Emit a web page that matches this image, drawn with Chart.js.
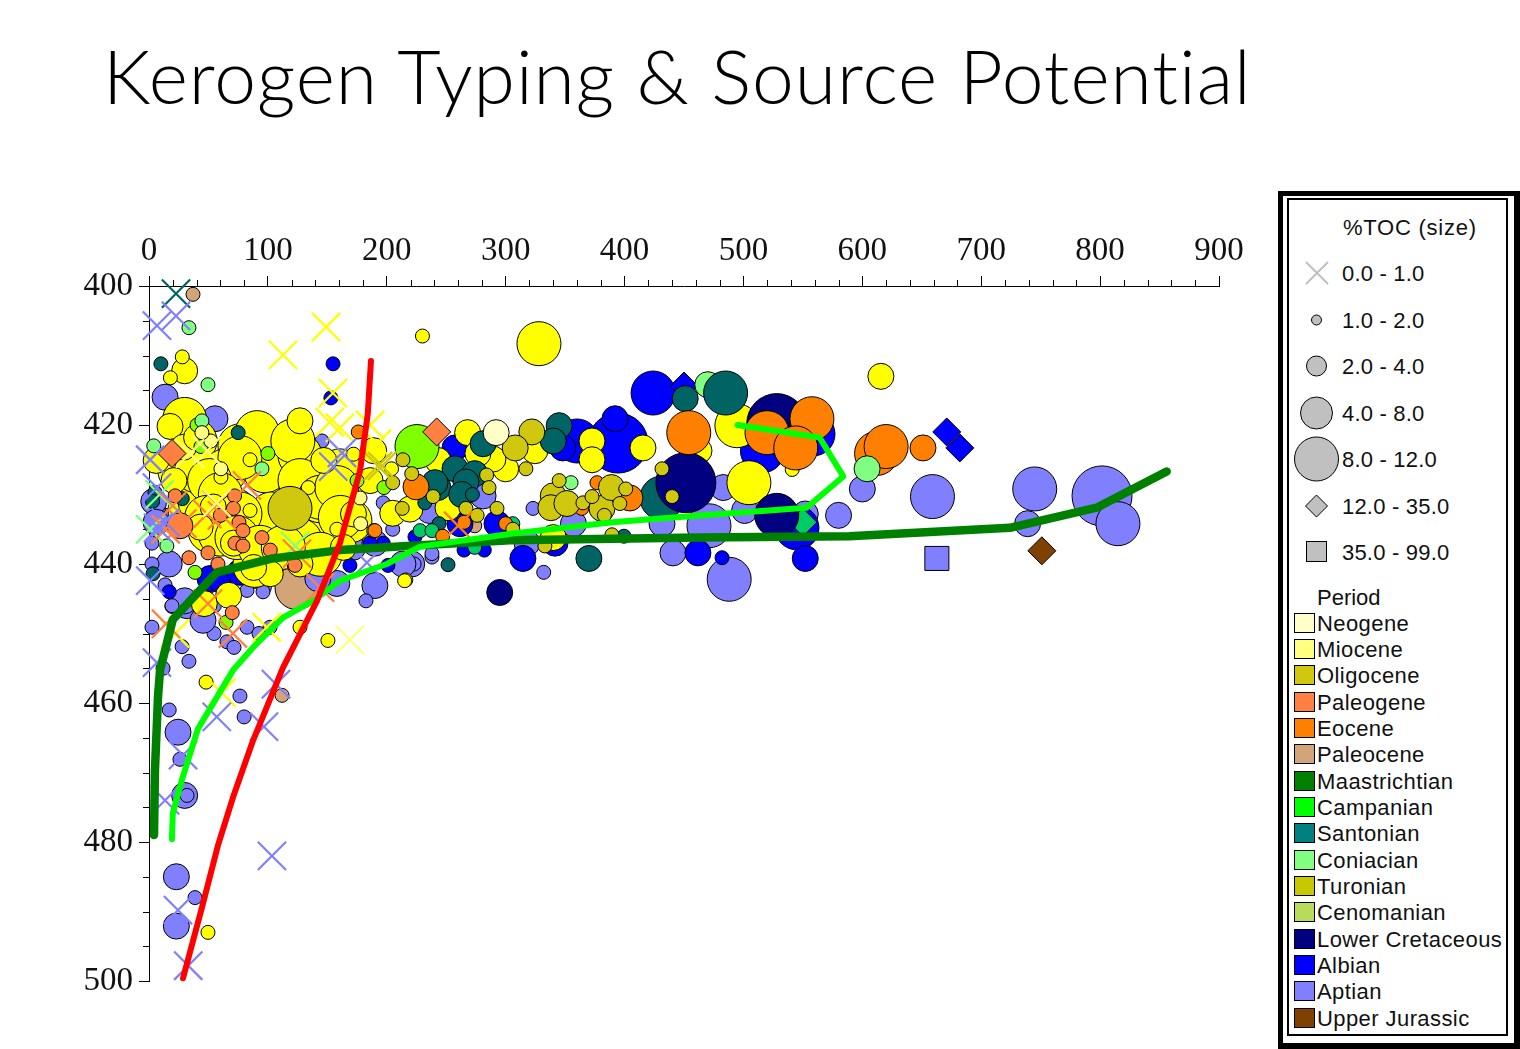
<!DOCTYPE html>
<html>
<head>
<meta charset="utf-8">
<title>Kerogen Typing & Source Potential</title>
<script src="https://cdn.jsdelivr.net/npm/chart.js@4"></script>
<style>
html,body{margin:0;padding:0;background:#fff;width:1520px;height:1049px;overflow:hidden}
#title{position:absolute;left:103px;top:30px;font:300 75px Lato,"Open Sans",sans-serif;color:#000;white-space:nowrap;letter-spacing:1px}
canvas{position:absolute;left:0;top:0}
#legend{position:absolute;left:1278px;top:191px;width:242px;height:858px;box-sizing:border-box;background:#000;}
#legend .gap{position:absolute;left:5px;top:5px;width:231px;height:847px;background:#fff}
#legend .inner{position:absolute;left:9px;top:7px;width:221px;height:838px;box-sizing:border-box;border:2px solid #000;background:#fff}
.lt{position:absolute;font:22px "Liberation Sans",Arial,sans-serif;color:#111;white-space:nowrap;line-height:26px;height:26px;transform:translateY(-12.5px)}
.sw{position:absolute;width:19px;height:18px;border:1px solid #000;left:1294px}
svg.ic{position:absolute;overflow:visible;left:0;top:0}
</style>
</head>
<body>
<div id="title">Kerogen Typing &amp; Source Potential</div>
<canvas id="c" width="1520" height="1049" style="width:1520px;height:1049px"></canvas>
<div id="legend"><div class="gap"></div><div class="inner"></div></div>
<div id="legendItems"></div>
<script>
// size class: 0 cross (0-1), 1 small (1-2), 2 mid (2-4), 3 large (4-8), 4 largest (8-12), 5 diamond (12-35), 6 square (35-99)
const tocLabels = ["0.0 - 1.0","1.0 - 2.0","2.0 - 4.0","4.0 - 8.0","8.0 - 12.0","12.0 - 35.0","35.0 - 99.0"];
const periodNames = ["Neogene","Miocene","Oligocene","Paleogene","Eocene","Paleocene","Maastrichtian","Campanian","Santonian","Coniacian","Turonian","Cenomanian","Lower Cretaceous","Albian","Aptian","Upper Jurassic"];
const periodSwatches = ["#ffffc8","#ffff80","#cfc80f","#ff8040","#ff8000","#d2a478","#008000","#00ff00","#008080","#80ff80","#c8c800","#b8dc5a","#000080","#0000ff","#8080ff","#804000"];
const xTickStep = 20, yTickStep = 5;

const aptianPts = [[801.6,430.2,4],[815,434.2,3],[745,429.2,3],[659,430.3,3],[488,442.2,3],[471,434.5,3],[739,434.2,2],[600,429.2,2],[580,433,2],[431.5,434.2,2],[440.7,438.4,2],[483,429,2],[501,432.3,2],[552,432.8,2],[357,434.2,2],[318,437,2],[281,430.2,2],[236,432.3,2],[221,440,2],[332,441.2,1],[323,432,1],[238,439,1],[190,443.1,2],[158,442.8,2],[142,442.1,2],[182.5,445.3,1],[17,440,2],[24.4,464.2,2],[23,485,2],[23,492.1,2],[30,473.3,2],[32,473.3,1],[13.5,416,2],[55.5,419.1,2],[2.5,437,1],[2.5,440,1],[2.5,449.1,1],[17,461,1],[26,468.1,1],[38.7,488,1],[76.5,459,1],[80,462,1],[54.7,450,1],[65.6,451.2,1],[71.5,452,1],[82.4,449.1,1],[92.5,450,1],[101.8,449.1,1],[27.8,451.9,1],[33.6,454,1],[11.8,455,1],[19.3,446.1,1],[32,446,2],[45.4,448.1,2],[30,445.3,2],[13.5,443,1],[51,443.2,1],[64,443,1],[89,442.5,1],[81,441,1],[97,443.4,1],[55,446,1],[126,440,1],[14,433,1],[8,432,1],[4,431,2],[197,431.2,1],[223,440,1],[213.6,440,2],[238,438.5,1],[145.5,422.3,1],[158,437.6,2],[171.5,437.6,2],[82.4,443.8,1],[95.9,444,1],[19.3,446,1],[6,434,2],[190,437,2],[205,435,1]];
const aptianSquares = [[662.7,439.2,6]];
const aptianCross = [[6.7,405.7,0],[22.7,404.3,0],[33,497.8,0],[103.4,482,0],[57,462,0],[96.7,463.4,0],[106.8,457.3,0],[24.4,489.8,0],[13.5,474,0],[28.6,467.5,0],[6.7,454.2,0],[1,442.4,0],[162.3,424,0],[6.7,429,0],[7.6,434.8,0],[183.3,439.8,0],[1,425,0],[14,434,0],[155,426,0]];
const albianPts = [[424,415.4,3],[394.5,422.6,4],[360,422.3,3],[348,423.3,2],[516,423.7,3],[558.5,421.3,3],[545,434.8,3],[461.7,438.4,2],[552,439.2,2],[314.5,439.2,2],[341.5,437,2],[257.4,423.3,2],[392,419.1,2],[292.7,434.2,2],[261.6,434.2,2],[482,439.1,1],[154.8,411.2,1],[153,416.1,1],[17,444,1],[51.3,442.1,2],[61.4,442.4,2],[76.5,441.2,2],[169,440.2,1],[223.7,436.1,1],[201,440.2,1],[197,437,1],[186,437,1],[265,438,1],[282,438,1],[671,421,5],[682,423.3,5],[450,414.4,5]];
const yellowPts = [[38.7,422.3,3],[76.5,423,3],[26,426.6,3],[97.6,426.6,3],[127,424.4,3],[160.6,426.6,3],[72.3,432.3,3],[51.3,435.2,3],[101.8,435.2,3],[152,435.2,3],[127,436.6,3],[89,440.2,3],[169,433.8,3],[34.5,432.3,3],[143.8,430.9,3],[64,426.6,3],[43,431,3],[328,408.3,3],[504.6,428.3,3],[494.5,420.1,3],[30,419.2,3],[91,421.1,3],[121,422.3,3],[76.5,424.7,3],[127,428,3],[144,430.4,3],[158,429,3],[103,432.8,3],[40,426.6,3],[51,428,3],[60,430,3],[48.5,433.3,3],[76.5,432.8,3],[60,435.7,3],[74,436.2,3],[161,433.3,3],[144,438.6,3],[93.4,437.6,3],[113,437.6,3],[17.7,420.2,2],[6,425.1,2],[30,412.2,2],[147,425.1,2],[189,423.7,2],[186,428,2],[205,432.7,2],[219.5,432.1,2],[102,441.4,2],[46.5,445.7,2],[67,444.5,2],[163.5,437.6,2],[127,419.4,2],[29,423.2,2],[172,432.8,2],[40,421.8,2],[54,431.8,2],[43,434.7,2],[88,440.5,2],[127,440,2],[71,437,2],[21,428,2],[615.6,413,2],[268,421.1,2],[372.6,422.3,2],[372.6,425,2],[415.5,423.3,2],[300,426.3,2],[324.6,423.7,2],[289.3,424.9,2],[276.7,424.1,2],[243,425.1,2],[251.5,431.9,2],[462.6,423.7,2],[340,436.2,2],[28,410.2,1],[18,413.2,1],[134,429,1],[85,425,1],[172,424.2,1],[204,426.3,1],[230,407.2,1],[216,442.3,1],[60.5,427.5,1],[85,432.3,1],[189,435.2,1],[158,435,1],[48,457,1],[49.6,493,1],[150.5,451,1],[127,449.1,1],[541,426.4,1],[215,442.4,1],[149,405.9,0],[112.7,409.9,0],[152,419.6,0],[154.7,415.4,0],[186,420,0],[191.7,422.7,0],[160.6,420.4,0],[61,458.5,0],[99,449.1,0],[22,450,0]];
const limePts = [[225.4,423.1,3],[40.4,420,1],[43.7,423.1,1],[100,424.1,1],[38.7,441.2,1],[175,428,1],[197.6,429,1],[64.8,448.4,1]];
const coniacianUnderPts = [[470,414.2,2]];
const santonianPts = [[485,415.4,3],[431.5,430.5,3],[451,416.2,2],[370,439.2,2],[345,420.1,2],[340,422.3,2],[281,422.7,2],[257.4,426.3,2],[274,427,2],[266.6,428.2,2],[243,429,2],[263,430,2],[251.5,440.1,1],[399.5,436,1],[244,434.2,1],[272,430,1],[232,431.2,1],[10,411.2,1],[75,421.1,1],[240.5,428.3,2],[5,429.7,1],[3.4,441.4,1],[28,430.6,1],[3,431,1],[22.7,401.1,0]];
const lowerCretPts = [[451.6,428.3,4],[528,419.8,4],[528,433,3],[295,444.1,2]];
const campanianPts = [[228,435.2,1],[238,435.2,1],[306,434.2,1],[274,437.6,1],[550,434,5]];
const eocenePts = [[454,421.1,3],[519.8,421.1,3],[557.6,419.1,3],[544,423.3,3],[612,424.1,3],[620,423.1,3],[651,423.3,2],[404.5,430.5,2],[376.8,428.3,1],[224.6,428.9,2],[300,434.2,1],[364,432,1],[265,434,1],[247,436,1],[190,435.2,1],[176,421,1]];
const coniacianPts = [[604,426.3,2],[355,428.3,1],[49.6,414.2,1],[33.6,406,1],[95,426.3,1],[4,423,1],[15,437.4,1],[44.5,419.4,1],[122.8,437.4,0],[1,435,0],[9,430,0]];
const paleogenePts = [[26,434.5,2],[72,430.2,1],[71,432,1],[60,433,1],[75.7,434,1],[79,435.2,1],[72.3,437,1],[79,437.4,1],[49.6,438.4,1],[95,436.2,1],[58,440,1],[33.6,439.1,1],[70,447,1],[22,430.2,1],[102,438,1],[122.8,440.2,1],[242,421,5],[19.3,424.1,5],[20,431.6,0],[28,434.2,0],[14,435,0],[57,431.3,0],[82.4,428.7,0],[61.4,433,0],[49,432.8,0],[14.3,448.6,0],[70.6,450,0],[49.6,445.7,0],[143.8,443.4,0],[124.5,438.5,0]];
const eoceneCross = [[260,434.5,0]];
const paleocenePts = [[37,401.2,1],[124.5,443.4,3],[111.9,458.9,1],[274,434.5,1]];
const oligocenePts = [[118.6,432,3],[340,430.2,2],[338,431.9,2],[322,421,2],[308,423.3,2],[381,432,2],[389,429,2],[351.5,431.3,2],[365,431.2,1],[383,433,1],[372.6,430.3,1],[396,431.3,1],[401,429.2,1],[345,428,1],[317,426.3,1],[284,427.2,1],[286,429,1],[266.6,432,1],[276,433,1],[292.7,432,1],[239,430.3,1],[213.6,425,1],[221,427,1],[431.5,426.3,1],[440,430.3,1],[306,435,1],[389.4,435.8,1],[333,437.4,1],[213,432,1],[205,428.3,1],[192.6,425.9,0],[196,425.9,0]];
const neogenePts = [[292,421.1,2]];
const paleYellowPts = [[52,422.3,1],[60.5,426.3,1],[178,434.2,1],[177.5,430.5,1],[44.5,421.1,1],[169,450.9,0],[57,431.2,0],[48.8,423.7,0],[34.5,424.1,0]];
const jurassicPts = [[751,438.1,5]];

const redLine = [[28.6,499.6],[44.6,489.4],[58,480.5],[70.6,473.6],[87.5,465.4],[112.7,454.9],[141.3,445.3],[160.6,437],[177.5,426.6],[184,418.4],[186.7,410.8]];
const greenLine = [[19.3,479.6],[20,475.9],[27.8,471],[41.2,463.7],[70.6,455.3],[87.5,452],[112.7,447.7],[138,445.3],[160.6,442.4],[200,440],[228,437.5],[306,435.6],[390,434],[449,433.2],[553,431.9],[584,427.4],[564,421.8],[495,420]];
const darkGreenLine = [[4.2,479],[5,469.7],[7.6,459],[9.3,455.3],[20,448],[34.5,445.3],[57,441.2],[104,439.2],[160.6,438],[217,437.4],[303.6,436.6],[463,436.2],[589,436],[724,434.8],[797,431.9],[856,426.7]];

const RADII = [20,7,13,22,30,14,17];
const STYLES = ["crossRot","circle","circle","circle","circle","rectRot","rect"];

// listed bottom to top
const layers = [
  [paleocenePts,"#d2a478"],[aptianPts,"#8080ff"],[aptianSquares,"#8080ff"],[albianPts,"#0000ff"],[yellowPts,"#ffff00"],
  [limePts,"#80ff00"],[coniacianUnderPts,"#80ff80"],[santonianPts,"#006464"],[campanianPts,"#00cc66"],[lowerCretPts,"#000080"],
  [eocenePts,"#ff8000"],[coniacianPts,"#80ff80"],[paleogenePts,"#ff8040"],
  [oligocenePts,"#cfc80f"],[neogenePts,"#ffffc8"],[paleYellowPts,"#ffff80"],[jurassicPts,"#804000"],
  [aptianCross,"#8080ff"],[eoceneCross,"#ff8000"]
];
const lines = [[darkGreenLine,"#008000",8.5],[greenLine,"#00ff00",6],[redLine,"#ff0000",6]];

const total = layers.length + lines.length;
const datasets = [];
layers.forEach(([pts,color],i)=>{
  datasets.push({
    type:"scatter",
    order: total - i,
    clip:false,
    data: pts.map(p=>({x:p[0],y:p[1],s:p[2]})),
    backgroundColor:color,
    pointRadius: c=>RADII[c.raw.s],
    pointHoverRadius: c=>RADII[c.raw.s],
    pointStyle: c=>STYLES[c.raw.s],
    pointBackgroundColor:color,
    pointBorderColor: c=>c.raw.s===0?color:"#000",
    pointBorderWidth: c=>c.raw.s===0?2.2:1
  });
});
lines.forEach(([pts,color,w],i)=>{
  datasets.push({
    type:"scatter",
    order: lines.length - i,
    clip:false,
    showLine:true,
    tension:0,
    data: pts.map(p=>({x:p[0],y:p[1]})),
    borderColor:color,
    borderWidth:w,
    borderCapStyle:"round",
    borderJoinStyle:"round",
    pointRadius:0
  });
});

const minorTicks = {
  id:"minorTicks",
  beforeDatasetsDraw(chart){
    const g = chart.ctx, xs = chart.scales.x, ys = chart.scales.y;
    g.save(); g.strokeStyle="#000"; g.lineWidth=1; g.beginPath();
    xs.ticks.forEach(t=>{ if(t.value%100!==0){ const p=Math.round(xs.getPixelForValue(t.value))+0.5; g.moveTo(p,xs.bottom); g.lineTo(p,xs.bottom-6);} });
    ys.ticks.forEach(t=>{ if(t.value%20!==0){ const p=Math.round(ys.getPixelForValue(t.value))+0.5; g.moveTo(ys.right,p); g.lineTo(ys.right-6,p);} });
    g.stroke(); g.restore();
  }
};
const tickFont = {family:'"Liberation Serif","Times New Roman",serif',size:33};
new Chart(document.getElementById("c"),{
  type:"scatter",
  data:{datasets},
  plugins:[minorTicks],
  options:{
    responsive:false,animation:false,devicePixelRatio:1,
    layout:{padding:{left:0,top:0,right:301,bottom:68}},
    plugins:{legend:{display:false},tooltip:{enabled:false},title:{display:false}},
    events:[],
    scales:{
      x:{type:"linear",position:"top",min:0,max:900,
        afterFit(s){s.height=286;},
        border:{color:"#000",width:1},
        grid:{drawOnChartArea:false,tickLength:10,tickWidth:1,tickColor:c=>c.tick&&c.tick.value%100===0?"#000":"rgba(0,0,0,0)"},
        ticks:{stepSize:xTickStep,autoSkip:false,maxRotation:0,minRotation:0,padding:5,color:"#111",font:tickFont,
          callback:v=>v%100===0?String(v):""}},
      y:{type:"linear",reverse:true,min:400,max:500,
        afterFit(s){s.width=149;},
        border:{color:"#000",width:1},
        grid:{drawOnChartArea:false,tickLength:10,tickWidth:1,tickColor:c=>c.tick&&c.tick.value%20===0?"#000":"rgba(0,0,0,0)"},
        ticks:{stepSize:yTickStep,autoSkip:false,padding:6,color:"#111",font:tickFont,
          callback:v=>v%20===0?String(v):""}}
    }
  }
});

// legend
const host=document.getElementById("legendItems");
function text(t,x,y){const d=document.createElement("div");d.className="lt";d.textContent=t;d.style.left=x+"px";d.style.top=y+"px";host.appendChild(d);return d;}
text("%TOC (size)",1343,227).style.letterSpacing="0.75px";
const tocY=[273,320,366,413,459,506,552];
const NS="http://www.w3.org/2000/svg";
const svg=document.createElementNS(NS,"svg");svg.setAttribute("class","ic");svg.setAttribute("width","1520");svg.setAttribute("height","1049");
const icon=[
 y=>`<path d="M1306 ${y-11}L1328 ${y+11}M1328 ${y-11}L1306 ${y+11}" stroke="#c0c0c0" stroke-width="2" fill="none"/>`,
 y=>`<circle cx="1316.5" cy="${y}" r="5" fill="#c0c0c0" stroke="#000"/>`,
 y=>`<circle cx="1316.5" cy="${y}" r="10" fill="#c0c0c0" stroke="#000"/>`,
 y=>`<circle cx="1316.5" cy="${y}" r="16" fill="#c0c0c0" stroke="#000"/>`,
 y=>`<circle cx="1316.5" cy="${y}" r="22" fill="#c0c0c0" stroke="#000"/>`,
 y=>`<path d="M1316.5 ${y-11}L1327.5 ${y}L1316.5 ${y+11}L1305.5 ${y}Z" fill="#c0c0c0" stroke="#000"/>`,
 y=>`<rect x="1306.5" y="${y-10.5}" width="20" height="20" fill="#c0c0c0" stroke="#000"/>`
];
svg.innerHTML=tocLabels.map((l,i)=>icon[i](tocY[i])).join("");
host.appendChild(svg);
tocLabels.forEach((l,i)=>{text(l,1342,tocY[i]).style.letterSpacing="0.2px";});
text("Period",1317,597);
const perY=[623,649,675,702,728,754,781,807,833,860,886,912,939,965,991,1018];
periodNames.forEach((n,i)=>{
  const d=text(n,1317,perY[i]);d.style.letterSpacing="0.42px";
  const s=document.createElement("div");s.className="sw";s.style.top=(perY[i]-10)+"px";s.style.background=periodSwatches[i];host.appendChild(s);
});
</script>
</body>
</html>
